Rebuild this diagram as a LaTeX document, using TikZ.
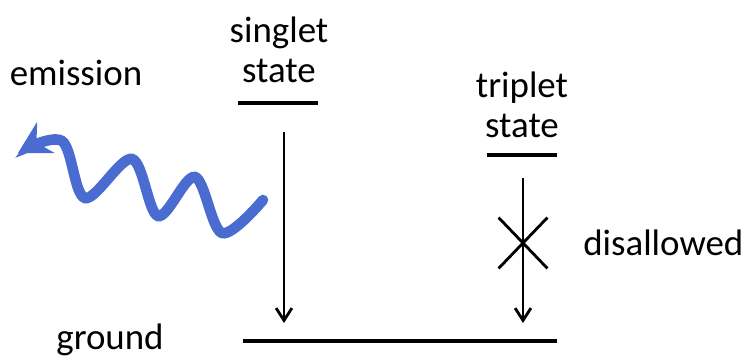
\documentclass[tikz,border=0pt]{standalone}
\usepackage{fontspec}
\setmainfont{Carlito}
\usepackage{tikz}
\usetikzlibrary{
arrows.meta,
positioning,
shapes.misc
}
\definecolor{photonblue}{HTML}{4A6CD0}

\begin{document}
\begin{tikzpicture}[
x=0.02cm, y=-0.02cm,
txt/.style={
font=\fontsize{21}{23}\selectfont,
align=center,
inner sep=0pt
},
level/.style={line width=2.3pt},
arrow/.style={-{Straight Barb[length=7pt,width=9pt]},line width=1.6pt},
photon/.style={draw=photonblue,line width=6pt,line cap=round,
  -{Stealth[length=18pt,width=20pt,inset=6pt]}}
]
\useasboundingbox (0,0) rectangle (746,358);

% energy levels
\coordinate (s1) at (238,103);
\coordinate (s2) at (318,103);
\coordinate (t1) at (487,155);
\coordinate (t2) at (557,155);
\coordinate (g1) at (243,341);
\coordinate (g2) at (557,341);
\draw[level] (s1) -- (s2);
\draw[level] (t1) -- (t2);
\draw[level] (g1) -- (g2);

% labels
\node[txt] (singlet) at (279,50) {singlet\\state};
\node[txt] (triplet) at (522,105) {triplet\\state};
\node[txt] (emission) at (76,73) {emission};
\node[txt] (ground) at (110,340) {ground};
\node[txt, anchor=west] (disallowed) at (583,243) {disallowed};

% transitions
\coordinate (sa) at (284,132);
\coordinate (sb) at (284,323);
\coordinate (ta) at (523,178);
\coordinate (tb) at (523,323);
\draw[arrow] (sa) -- (sb);
\draw[arrow] (ta) -- (tb);
\node[cross out, draw, line width=1.6pt, minimum width=0.92cm,
  minimum height=0.96cm, inner sep=0pt] (block) at (523,243) {};

% emitted light
\draw[photon] plot[smooth, tension=0.55] coordinates {
(263,200) (222,233) (195,177) (158,216) (132,159) (85,198) (62,141) (18,153)};

\end{tikzpicture}
\end{document}
